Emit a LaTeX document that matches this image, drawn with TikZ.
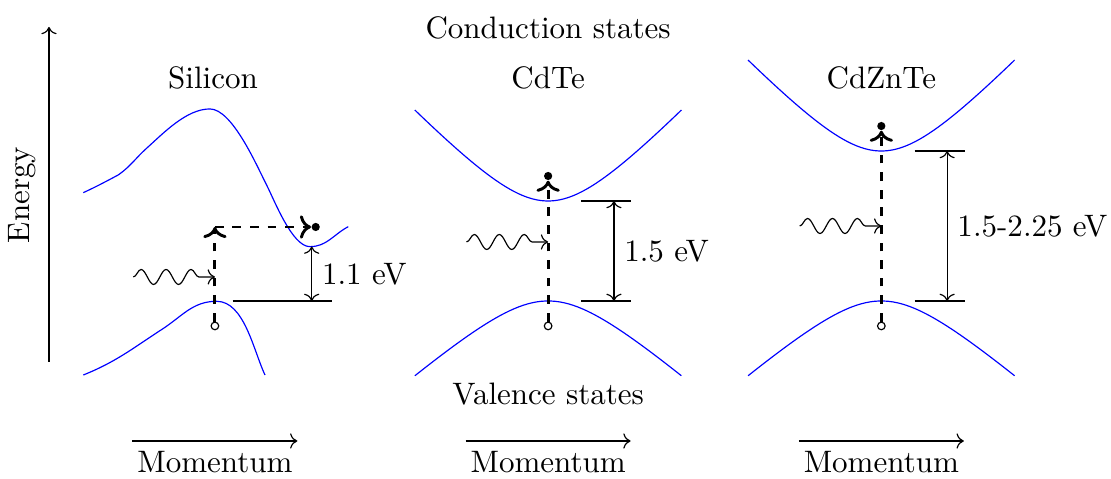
\documentclass[tikz,border=0pt]{standalone}
\usepackage{amsmath,amssymb}
\usepackage{xcolor}
\usepackage{tikz}
\usetikzlibrary{arrows.meta,positioning,calc,decorations.pathmorphing}

\begin{document}
\begin{tikzpicture}[
  every node/.style={font=\fontsize{10.6}{12.7}\selectfont},
  band/.style={blue},
  trans/.style={line width=1pt,dashed,->},
  photon/.style={->,decorate,decoration={snake,amplitude=0.09cm,segment length=0.3cm,post length=0.18cm}},
  hole/.style={circle,draw,fill=white,inner sep=0pt,minimum size=2.6pt},
  elec/.style={circle,fill,inner sep=0pt,minimum size=2.8pt}]
 \useasboundingbox (0,0) rectangle (13.337,5.75);
 % energy axis and labels
 \coordinate (E0) at (0.588,1.405);
 \coordinate (E1) at (0.588,5.426);
 \draw[->] (E0) -- (E1);
 \node[rotate=90] (en) at (0.264,3.409) {Energy};
 \node (cs) at (6.58,5.414) {Conduction states};
 \node (vs) at (6.58,1.02) {Valence states};
 \foreach \cx/\n in {2.58/1,6.58/2,10.58/3}{
   \coordinate (ma\n) at (\cx-0.99,0.456);
   \coordinate (mb\n) at (\cx+0.99,0.456);
   \draw[->] (ma\n) -- node[below] {Momentum} (mb\n);
 }
 % silicon (indirect gap)
 \node (t1) at (2.557,4.814) {Silicon};
 \draw[band] (1.0,3.437) to[out=25,in=208] (1.42,3.65) to[out=35,in=222] (1.76,3.97)
   to[out=42,in=180,looseness=0.8] (2.52,4.442) to[out=0,in=117,looseness=0.6] (3.2,3.53)
   to[out=-63,in=180,looseness=0.6] (3.72,2.789) to[out=0,in=208] (4.181,3.029);
 \draw[band] (1.0,1.248) to[out=22,in=213] (1.95,1.8) to[out=33,in=180] (2.6,2.133)
   to[out=0,in=115,looseness=0.8] (3.181,1.248);
 \node[hole] (h1) at (2.58,1.837) {};
 \coordinate (k1) at (2.58,3.025);
 \node[elec] (e1) at (3.79,3.025) {};
 \draw[trans] (h1) -- (k1);
 \draw[trans] (k1) -- (e1);
 \coordinate (w1) at (1.6,2.425);
 \draw[photon] (w1) -- (w1 -| h1);
 \coordinate (lo1) at (2.793,2.137);
 \coordinate (hi1) at (3.742,2.79);
 \draw (lo1) -- ++(1.196,0);
 \draw[<->] (hi1 |- lo1) -- node[right] {1.1 eV} (hi1);
 % direct gap materials
 \foreach \cx/\gap/\n/\ttl/\lab/\wy in {6.58/1.2/2/CdTe/1.5 eV/2.845,10.58/1.8/3/CdZnTe/1.5-2.25 eV/3.037}{
   \node (t\n) at (\cx,4.814) {\ttl};
   \draw[band] plot[domain=-1.6:1.6,samples=60] ({\cx+\x},{2.137+\gap+0.76*(sqrt(1+(\x/0.72)^2)-1)});
   \draw[band] plot[domain=-1.6:1.6,samples=60] ({\cx+\x},{2.137-0.625*(sqrt(1+(\x/0.72)^2)-1)});
   \node[hole] (h\n) at (\cx,1.837) {};
   \node[elec] (e\n) at (\cx,2.437+\gap) {};
   \draw[trans] (h\n) -- (e\n);
   \coordinate (w\n) at (\cx-0.98,\wy);
   \draw[photon] (w\n) -- (w\n -| h\n);
   \coordinate (lo\n) at (\cx+0.4,2.137);
   \coordinate (hi\n) at (\cx+0.4,2.137+\gap);
   \draw (lo\n) -- ++(0.6,0);
   \draw (hi\n) -- ++(0.6,0);
   \draw[<->] ($(lo\n)+(0.39,0)$) -- node[right] {\lab} ($(hi\n)+(0.39,0)$);
 }
\end{tikzpicture}
\end{document}
